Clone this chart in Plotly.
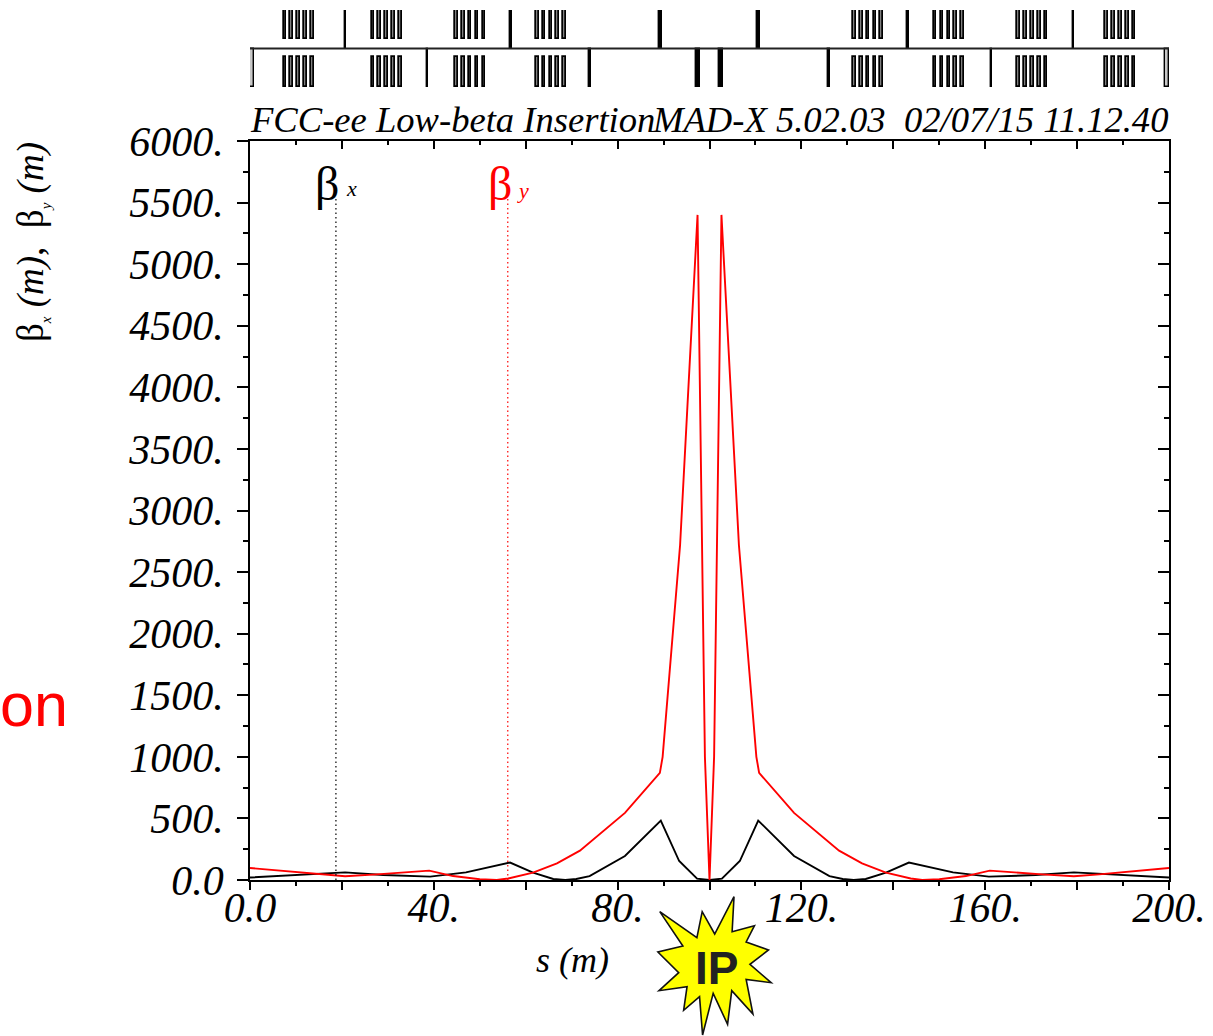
import plotly.graph_objects as go

# ---- data ----
s_x = [0, 20.7, 29, 39.2, 47, 56.6, 61.6, 66, 68.6, 71, 73.9, 81.6, 89.4, 93.4, 97.3, 100,
       102.7, 106.6, 110.6, 118.4, 126.1, 129, 131.4, 134, 138.4, 143.4, 153, 160.8, 171, 179.3, 200]
beta_x = [20, 62, 40, 27, 62, 142, 60, 8, 0, 8, 32, 195, 483, 154, 11, 0,
          11, 154, 483, 195, 32, 8, 0, 8, 60, 142, 62, 27, 40, 62, 20]
s_y = [0, 15.2, 20.7, 27.6, 39, 44.2, 50, 53.7, 56.2, 61.6, 66.8, 71.8, 81.6, 89.2, 89.8, 93.6, 97.4, 99.0, 100,
       101.0, 102.6, 106.4, 110.2, 110.8, 118.4, 128.2, 133.2, 138.4, 143.8, 146.3, 150, 155.8, 161, 172.4, 179.3, 184.8, 200]
beta_y = [97, 46, 30, 46, 76, 32, 6, 0, 12, 60, 135, 238, 545, 870, 1000, 2720, 5400, 1000, 0,
          1000, 5400, 2720, 1000, 870, 545, 238, 135, 60, 12, 0, 6, 32, 76, 46, 30, 46, 97]

sext_s = [7.6, 9.1, 10.6, 12.1, 13.6, 26.75, 28.25, 29.75, 31.25, 32.75,
          44.9, 46.4, 47.9, 49.4, 50.9, 62.5, 64.0, 65.5, 67.0, 68.5,
          131.5, 133.0, 134.5, 136.0, 137.5, 149.1, 150.6, 152.1, 153.6, 155.1,
          167.25, 168.75, 170.25, 171.75, 173.25, 186.4, 187.9, 189.4, 190.9, 192.4]
quad_top_s = [20.7, 56.8, 143.2, 179.3]
quad_bot_s = [38.7, 74.0, 126.0, 161.3]
strong_top_s = [89.4, 110.6]
strong_bot_s = [97.5, 102.5]
edge_s = [0.45, 199.55]
lane_s = [0, 200]
lane_y = [0, 0]

y_ticks = [0, 500, 1000, 1500, 2000, 2500, 3000, 3500, 4000, 4500, 5000, 5500, 6000]
y_labels = ["0.0", "500.", "1000.", "1500.", "2000.", "2500.", "3000.", "3500.", "4000.", "4500.", "5000.", "5500.", "6000."]
x_ticks = [0, 20, 40, 60, 80, 100, 120, 140, 160, 180, 200]
x_label_ticks = [0, 40, 80, 120, 160, 200]
x_labels = ["0.0", "40.", "80.", "120.", "160.", "200."]

marker_x_s = [18.7, 18.7]
marker_y_s = [56.1, 56.1]
marker_v = [0, 5550]

star_px = [(105, 515), (203, 593), (217, 515), (250, 582), (301, 470), (296, 575), (355, 557), (333, 606),
           (392, 630), (343, 673), (399, 728), (333, 718), (351, 822), (295, 752), (284, 853), (246, 760),
           (218, 885), (210, 770), (168, 811), (177, 740), (103, 752), (155, 698), (100, 636), (166, 618)]

# ---- layout constants ----
W, H = 1213, 1036
L, R, B = 250, 1169, 880
SERIF = "Liberation Serif"


def px(x):
    return (x - L) / (R - L)


def py(y):
    return (B - y) / B


fig = go.Figure()
fig.add_trace(go.Scatter(x=s_x, y=beta_x, mode="lines", line=dict(color="black", width=1.9), showlegend=False))
fig.add_trace(go.Scatter(x=s_y, y=beta_y, mode="lines", line=dict(color="#ff0000", width=1.9), showlegend=False))
fig.add_trace(go.Scatter(x=marker_x_s, y=marker_v, mode="lines",
                         line=dict(color="black", width=1.2, dash="1.5px,3px"), showlegend=False))
fig.add_trace(go.Scatter(x=marker_y_s, y=marker_v, mode="lines",
                         line=dict(color="#ff0000", width=1.2, dash="1.5px,3px"), showlegend=False))
# frame axes for top and right sides
fig.add_trace(go.Scatter(x=lane_s, y=lane_y, mode="lines", line=dict(width=0), xaxis="x2", yaxis="y2",
                         hoverinfo="skip", showlegend=False))
# axis that carries the labelled ticks
fig.add_trace(go.Scatter(x=lane_s, y=lane_y, mode="lines", line=dict(width=0), xaxis="x4", yaxis="y",
                         hoverinfo="skip", showlegend=False))


def lattice(xs, base, h, width, fill, lw=1.4):
    fig.add_trace(go.Bar(x=xs, y=[h] * len(xs), base=base, width=width, xaxis="x3", yaxis="y3",
                         marker=dict(color=fill, line=dict(color="black", width=lw)), showlegend=False))


fig.add_trace(go.Scatter(x=lane_s, y=lane_y, mode="lines", xaxis="x3", yaxis="y3",
                         line=dict(color="#222222", width=1.8), showlegend=False))
lattice(sext_s, 0.25, 0.75, 0.6, "#808080", 1.7)
lattice(sext_s, -0.22, -0.78, 0.6, "#808080", 1.7)
lattice(quad_top_s, 0, 1, 0.25, "black")
lattice(quad_bot_s, 0, -1, 0.25, "black")
lattice(strong_top_s, 0, 1, 0.7, "black")
lattice(strong_bot_s, 0, -1, 0.85, "black")
lattice(edge_s, 0, -1, 0.75, "#c8c8c8")

tickfont = dict(family=SERIF, size=42, color="black", style="italic")
common = dict(showgrid=False, zeroline=False, showline=True, linecolor="black", linewidth=1.8,
              tickcolor="black", tickwidth=1.5, automargin=False)
ymain = [0, py(141)]

fig.update_layout(
    template="none",
    width=W, height=H, autosize=False, paper_bgcolor="white", plot_bgcolor="white",
    margin=dict(l=L, r=W - R, t=0, b=H - B, pad=0), showlegend=False, barmode="overlay", bargap=0,
    xaxis=dict(range=[0, 200], domain=[0, 1], anchor="y", side="bottom", ticks="outside", ticklen=8,
               tickmode="array", tickvals=x_ticks, showticklabels=False,
               minor=dict(dtick=10, ticks="outside", ticklen=4, tickcolor="black", tickwidth=1.5), **common),
    xaxis4=dict(range=[0, 200], domain=[0, 1], anchor="y", overlaying="x", side="bottom", ticks="outside", ticklen=8,
                tickmode="array", tickvals=x_label_ticks, ticktext=x_labels, tickfont=tickfont, tickangle=0,
                ticklabelstandoff=-18, **common),
    yaxis=dict(range=[0, 6000], domain=ymain, anchor="x", side="left", ticks="outside", ticklen=11,
               tickmode="array", tickvals=y_ticks, ticktext=y_labels, tickfont=tickfont,
               minor=dict(dtick=250, ticks="outside", ticklen=5, tickcolor="black", tickwidth=1.5),
               ticklabelstandoff=5, **common),
    xaxis2=dict(range=[0, 200], domain=[0, 1], anchor="y2", overlaying="x", side="top", ticks="inside", ticklen=8,
                tickmode="array", tickvals=x_ticks, showticklabels=False,
                minor=dict(dtick=10, ticks="inside", ticklen=4, tickcolor="black", tickwidth=1.5), **common),
    yaxis2=dict(range=[0, 6000], domain=ymain, anchor="x2", overlaying="y", side="right", ticks="inside", ticklen=11,
                tickmode="array", tickvals=y_ticks, showticklabels=False,
                minor=dict(dtick=250, ticks="inside", ticklen=5, tickcolor="black", tickwidth=1.5), **common),
    xaxis3=dict(range=[0, 200], domain=[0, 1], anchor="y3", visible=False),
    yaxis3=dict(range=[-1, 1], domain=[py(87), py(10)], anchor="x3", visible=False),
)


def note(text, x, y, size, color="black", family=SERIF, xanchor="left", yanchor="middle", angle=0, ref="paper"):
    fig.add_annotation(text=text, x=x, y=y, xref=ref, yref=ref, showarrow=False, xanchor=xanchor, yanchor=yanchor,
                       textangle=angle, font=dict(family=family, size=size, color=color))


note("<i>FCC-ee Low-beta Insertion</i>", px(248), py(120), 36.6)
note("<i>MAD-X 5.02.03\u00a0\u00a002/07/15 11.12.40</i>", px(1170), py(120), 36.6, xanchor="right")
note("<i>s (m)</i>", px(572), py(960), 36, xanchor="center")
note("β", px(327), py(183), 48, xanchor="center")
note("<i>x</i>", px(351), py(189), 22, xanchor="center")
note("β", px(500), py(183), 48, color="#ff0000", xanchor="center")
note("<i>y</i>", px(523), py(190), 22, color="#ff0000", xanchor="center")
note("on", px(-2), py(705), 61, color="#ff0000", family="Liberation Sans")
note("β<sub><span style='font-size:15px'><i>x</i></span></sub>\u00a0<i>(m)</i>,\u00a0\u00a0β<sub><span style='font-size:15px'><i>y</i></span></sub>\u00a0<i>(m)</i>",
     px(32), py(242), 37, xanchor="center", angle=-90)

star_path = "M " + " L ".join(f"{px(620 + a / 2.64):.5f},{py(740 + b / 3):.5f}" for a, b in star_px) + " Z"
fig.add_shape(type="path", path=star_path, xref="paper", yref="paper", fillcolor="#ffff00",
              line=dict(color="#111111", width=1.6), layer="above")
note("<b>IP</b>", px(716), py(968), 46, color="#222222", family="Liberation Sans", xanchor="center")

fig.write_html("out.html", config=dict(displayModeBar=False),
               post_script="document.body.style.margin='0';")
